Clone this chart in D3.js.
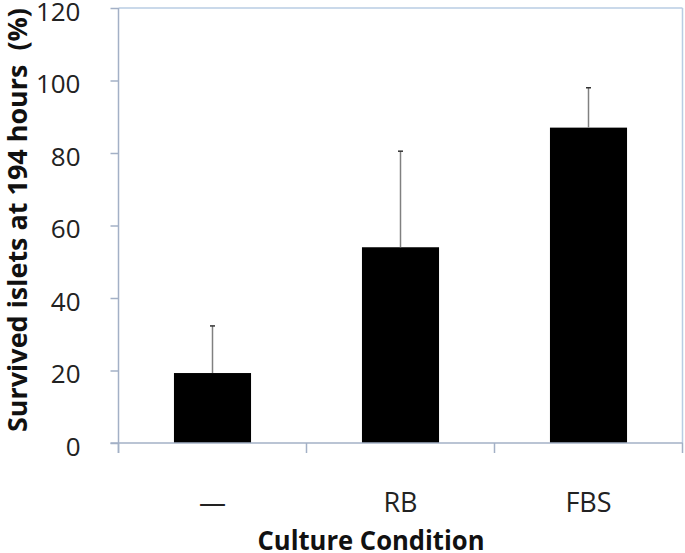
<!DOCTYPE html>
<html>
<head>
<meta charset="utf-8">
<script src="https://cdn.jsdelivr.net/npm/d3@7"></script>
<style>
  body { margin: 0; background: #fff; }
  svg { display: block; }
</style>
</head>
<body>
<svg width="685" height="553"></svg>
<script>
var svg = d3.select('svg');

// data
var categories = ['\u2014', 'RB', 'FBS'];
var survived = [19.3, 54, 87];
var errUp = [13, 26.5, 11];
var yTicks = [0, 20, 40, 60, 80, 100, 120];

// plot box (window.top is read-only, so no "top" here)
var pLeft = 118.5, pRight = 682.5, pTop = 8, pBottom = 443;

var x = d3.scaleBand()
    .domain(categories)
    .range([pLeft, pRight])
    .paddingInner(0.59)
    .paddingOuter(0.295);

var y = d3.scaleLinear()
    .domain([0, 120])
    .range([pBottom, pTop]);

var axisCol = '#a3b0c6';
var borderCol = '#b9cce3';

// plot border top / right
svg.append('line')
    .attr('x1', pLeft).attr('x2', pRight)
    .attr('y1', pTop).attr('y2', pTop)
    .attr('stroke', borderCol).attr('stroke-width', 1.5);
svg.append('line')
    .attr('x1', pRight).attr('x2', pRight)
    .attr('y1', pTop).attr('y2', pBottom)
    .attr('stroke', borderCol).attr('stroke-width', 1.5);

// bars
svg.selectAll('rect.bar')
    .data(survived)
    .enter()
    .append('rect')
    .attr('class', 'bar')
    .attr('x', function(d, i){ return x(categories[i]); })
    .attr('y', function(d){ return y(d); })
    .attr('width', x.bandwidth())
    .attr('height', function(d){ return y(0) - y(d); })
    .attr('fill', '#000');

// error bars (upper only)
svg.selectAll('line.err')
    .data(survived)
    .enter()
    .append('line')
    .attr('class', 'err')
    .attr('x1', function(d, i){ return x(categories[i]) + x.bandwidth() / 2; })
    .attr('x2', function(d, i){ return x(categories[i]) + x.bandwidth() / 2; })
    .attr('y1', function(d){ return y(d); })
    .attr('y2', function(d, i){ return y(d + errUp[i]); })
    .attr('stroke', '#808080')
    .attr('stroke-width', 1.5);

svg.selectAll('line.cap')
    .data(survived)
    .enter()
    .append('line')
    .attr('class', 'cap')
    .attr('x1', function(d, i){ return x(categories[i]) + x.bandwidth() / 2 - 2.5; })
    .attr('x2', function(d, i){ return x(categories[i]) + x.bandwidth() / 2 + 2.5; })
    .attr('y1', function(d, i){ return y(d + errUp[i]); })
    .attr('y2', function(d, i){ return y(d + errUp[i]); })
    .attr('stroke', '#333')
    .attr('stroke-width', 1.5);

// y axis
var yAxis = svg.append('g')
    .attr('transform', 'translate(' + pLeft + ',0)')
    .call(d3.axisLeft(y).tickValues(yTicks).tickSize(8).tickPadding(30).tickSizeOuter(0));
yAxis.select('.domain').attr('stroke', axisCol).attr('stroke-width', 1.5)
    .attr('d', 'M0,' + pTop + 'V' + (pBottom + 10));
yAxis.selectAll('.tick line').attr('stroke', axisCol).attr('stroke-width', 1.5);
yAxis.selectAll('.tick text')
    .attr('font-family', 'Open Sans')
    .attr('font-size', 26)
    .attr('fill', '#222')
    .attr('dy', '0.32em')
    .attr('transform', 'translate(0,4)');

// x axis, ticks at band edges
var edges = categories.map(function(c){ return x(c) - x.step() * x.paddingInner() / 2; });
edges.push(pRight);
var xg = svg.append('g');
xg.append('line')
    .attr('x1', pLeft - 8).attr('x2', pRight)
    .attr('y1', pBottom).attr('y2', pBottom)
    .attr('stroke', axisCol).attr('stroke-width', 1.5);
xg.selectAll('line.xt')
    .data(edges)
    .enter()
    .append('line')
    .attr('class', 'xt')
    .attr('x1', function(d){ return d; })
    .attr('x2', function(d){ return d; })
    .attr('y1', pBottom)
    .attr('y2', pBottom + 10)
    .attr('stroke', axisCol).attr('stroke-width', 1.5);

svg.selectAll('text.xl')
    .data(categories)
    .enter()
    .append('text')
    .attr('class', 'xl')
    .attr('x', function(d){ return x(d) + x.bandwidth() / 2; })
    .attr('y', 512)
    .attr('text-anchor', 'middle')
    .attr('font-family', 'Open Sans')
    .attr('font-size', 27)
    .attr('fill', '#222')
    .text(function(d){ return d; });

// axis titles
svg.append('text')
    .attr('x', 371)
    .attr('y', 550)
    .attr('text-anchor', 'middle')
    .attr('font-family', 'Open Sans')
    .attr('font-weight', 'bold')
    .attr('font-size', 26)
    .attr('textLength', 227)
    .attr('lengthAdjust', 'spacingAndGlyphs')
    .attr('fill', '#111')
    .text('Culture Condition');

svg.append('text')
    .attr('transform', 'translate(27,220) rotate(-90)')
    .attr('text-anchor', 'middle')
    .attr('font-family', 'Open Sans')
    .attr('font-weight', 'bold')
    .attr('font-size', 27)
    .attr('textLength', 424)
    .attr('lengthAdjust', 'spacingAndGlyphs')
    .attr('fill', '#111')
    .text('Survived islets at 194 hours\u00a0 (%)');
</script>
</body>
</html>
